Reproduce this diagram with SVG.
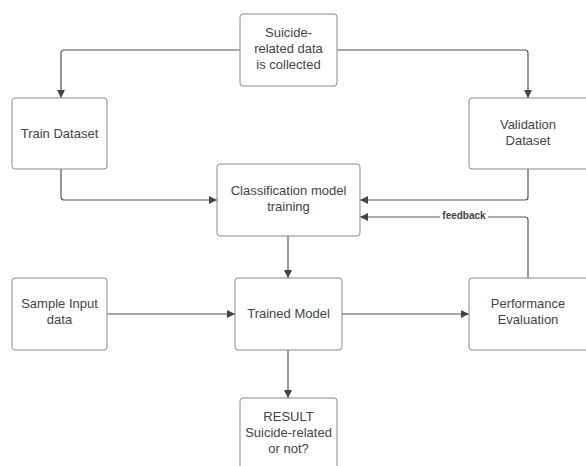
<svg xmlns="http://www.w3.org/2000/svg" width="586" height="466" viewBox="0 0 586 466">
<style>
.box{fill:#fff;stroke:#8a8a8a;stroke-width:1}
.t{font-family:"Liberation Sans",Arial,sans-serif;font-size:13px;fill:#444;text-anchor:middle}
.c{fill:none;stroke:#555;stroke-width:1.2}
.lbl{font-family:"Liberation Sans",Arial,sans-serif;font-size:10px;font-weight:bold;fill:#444;text-anchor:middle}
</style>
<defs>
<marker id="ah" viewBox="0 0 10 10" refX="10" refY="5" markerWidth="10" markerHeight="8" markerUnits="userSpaceOnUse" orient="auto">
<path d="M0,0 L10,5 L0,10 z" fill="#444"/>
</marker>
</defs>
<rect width="586" height="466" fill="#fff"/>
<g id="connectors">
<path class="c" d="M240,50 H64 Q61,50 61,53 V98" marker-end="url(#ah)"/>
<path class="c" d="M337,50 H525 Q528,50 528,53 V98" marker-end="url(#ah)"/>
<path class="c" d="M61,169 V197 Q61,200 64,200 H217" marker-end="url(#ah)"/>
<path class="c" d="M528,169 V197 Q528,200 525,200 H360" marker-end="url(#ah)"/>
<path class="c" d="M528,278 V220 Q528,217 525,217 H360" marker-end="url(#ah)"/>
<path class="c" d="M288,236 V278" marker-end="url(#ah)"/>
<path class="c" d="M288,350 V398" marker-end="url(#ah)"/>
<path class="c" d="M107,314 H235" marker-end="url(#ah)"/>
<path class="c" d="M342,314 H469" marker-end="url(#ah)"/>
<rect x="440" y="209" width="48" height="12" fill="#fff"/>
<text class="lbl" x="464" y="219">feedback</text>
</g>
<g id="collect">
<rect class="box" x="240" y="14" width="97" height="72" rx="3"/>
<text class="t" x="288.5" y="37">Suicide-</text>
<text class="t" x="288.5" y="53">related data</text>
<text class="t" x="288.5" y="69">is collected</text>
</g>
<g id="train">
<rect class="box" x="12" y="98" width="95" height="71" rx="3"/>
<text class="t" x="59.5" y="138">Train Dataset</text>
</g>
<g id="validation">
<rect class="box" x="469" y="98" width="120" height="71" rx="3"/>
<text class="t" x="528" y="129">Validation</text>
<text class="t" x="528" y="145">Dataset</text>
</g>
<g id="classification">
<rect class="box" x="217" y="164" width="143" height="72" rx="3"/>
<text class="t" x="288.5" y="195">Classification model</text>
<text class="t" x="288.5" y="211">training</text>
</g>
<g id="sample">
<rect class="box" x="12" y="278" width="95" height="72" rx="3"/>
<text class="t" x="59.5" y="308">Sample Input</text>
<text class="t" x="59.5" y="324">data</text>
</g>
<g id="trained">
<rect class="box" x="235" y="278" width="107" height="72" rx="3"/>
<text class="t" x="288.5" y="318">Trained Model</text>
</g>
<g id="performance">
<rect class="box" x="469" y="278" width="120" height="72" rx="3"/>
<text class="t" x="528" y="308">Performance</text>
<text class="t" x="528" y="324">Evaluation</text>
</g>
<g id="result">
<rect class="box" x="240" y="398" width="97" height="72" rx="3"/>
<text class="t" x="288.5" y="421">RESULT</text>
<text class="t" x="288.5" y="437">Suicide-related</text>
<text class="t" x="288.5" y="453">or not?</text>
</g>
</svg>
